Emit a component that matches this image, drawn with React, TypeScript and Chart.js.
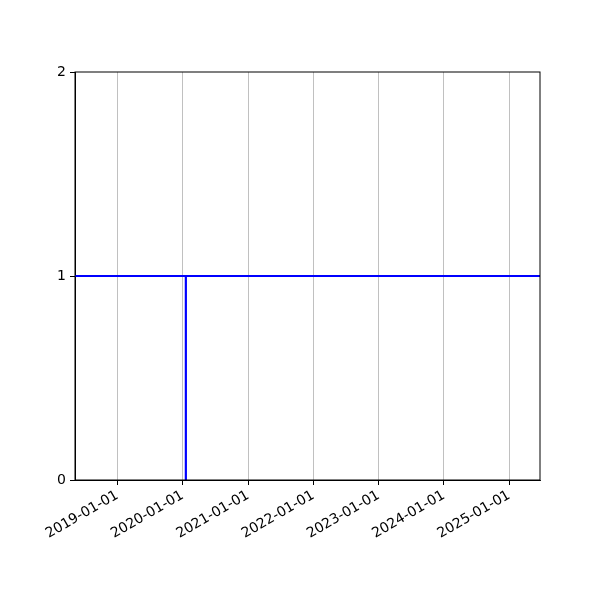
import { useEffect, useRef } from 'react';
import { Chart, ChartConfiguration, registerables } from 'chart.js';

Chart.register(...registerables);

// x range of the axes (dates)
const xRange = ['2018-05-09', '2025-06-22'];
// yearly ticks
const tickDates = ['2019-01-01', '2020-01-01', '2021-01-01', '2022-01-01', '2023-01-01', '2024-01-01', '2025-01-01'];
const yTicks = [0, 1, 2];

// horizontal line at 1 across the whole range
const hLineDates = ['2018-05-09', '2025-06-22'];
const hLineValues = [1, 1];

// vertical line from 0 to 1
const vLineDates = ['2020-01-19', '2020-01-19'];
const vLineValues = [0, 1];

const ms = (d: string) => Date.parse(d + 'T00:00:00Z');
const fmt = (v: number) => new Date(v).toISOString().slice(0, 10);

const boxPlugin = {
  id: 'box',
  afterDatasetsDraw(chart: any) {
    const { ctx, chartArea } = chart;
    ctx.save();
    ctx.strokeStyle = '#000';
    ctx.lineWidth = 1;
    ctx.strokeRect(chartArea.left, chartArea.top, chartArea.right - chartArea.left, chartArea.bottom - chartArea.top);
    ctx.restore();
  },
};

export default function App() {
  const chartRef = useRef<HTMLCanvasElement>(null);
  const chartInstance = useRef<Chart | null>(null);

  useEffect(() => {
    if (!chartRef.current) return;
    const ctx = chartRef.current.getContext('2d');
    if (!ctx) return;
    if (chartInstance.current) chartInstance.current.destroy();

    const font = { family: 'DejaVu Sans', size: 14 };

    const config: ChartConfiguration = {
      type: 'line',
      data: {
        datasets: [
          {
            data: hLineDates.map((d, i) => ({ x: ms(d), y: hLineValues[i] })),
            borderColor: '#0000ff',
            borderWidth: 2.2,
            pointRadius: 0,
            fill: false,
          },
          {
            data: vLineDates.map((d, i) => ({ x: ms(d), y: vLineValues[i] })),
            borderColor: '#0000ff',
            borderWidth: 2.2,
            pointRadius: 0,
            fill: false,
          },
        ],
      },
      options: {
        responsive: false,
        animation: false,
        layout: { padding: { top: 72, right: 60, left: 0, bottom: 0 } },
        plugins: {
          legend: { display: false },
          tooltip: { enabled: false },
        },
        scales: {
          x: {
            type: 'linear',
            min: ms(xRange[0]),
            max: ms(xRange[1]),
            afterBuildTicks: (scale: any) => {
              scale.ticks = tickDates.map((d) => ({ value: ms(d) }));
            },
            afterFit: (scale: any) => {
              scale.height = 120;
            },
            grid: {
              color: '#b0b0b0',
              lineWidth: 0.8,
              tickColor: '#000',
              tickLength: 5,
              tickWidth: 1,
            },
            border: { color: '#000', width: 1 },
            ticks: {
              color: '#000',
              font,
              padding: 2,
              autoSkip: false,
              minRotation: 30,
              maxRotation: 30,
              callback: (v: any) => fmt(Number(v)),
            },
          },
          y: {
            type: 'linear',
            min: yTicks[0],
            max: yTicks[yTicks.length - 1],
            afterBuildTicks: (scale: any) => {
              scale.ticks = yTicks.map((v) => ({ value: v }));
            },
            afterFit: (scale: any) => {
              scale.width = 75;
            },
            grid: {
              drawOnChartArea: false,
              tickColor: '#000',
              tickLength: 5,
              tickWidth: 1,
            },
            border: { color: '#000', width: 1 },
            ticks: {
              color: '#000',
              font,
              padding: 4,
            },
          },
        },
      },
      plugins: [boxPlugin],
    };

    chartInstance.current = new Chart(ctx, config);

    return () => {
      if (chartInstance.current) chartInstance.current.destroy();
    };
  }, []);

  return (
    <div style={{ position: 'fixed', left: 0, top: 0, width: 600, height: 600, background: '#fff' }}>
      <canvas ref={chartRef} width={600} height={600} />
    </div>
  );
}
